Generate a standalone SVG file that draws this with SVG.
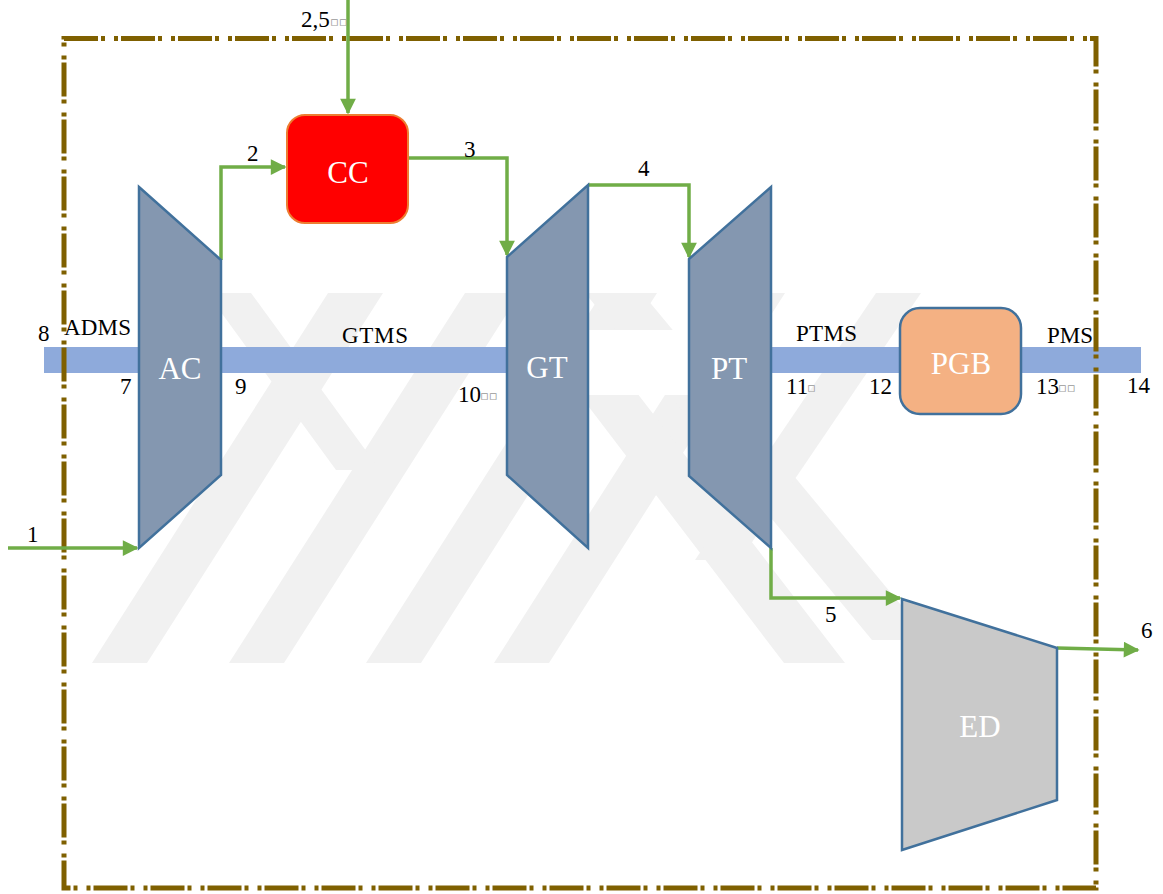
<svg xmlns="http://www.w3.org/2000/svg" width="1163" height="894" viewBox="0 0 1163 894">
<style>
.wm{fill:#f1f1f1;stroke:none}
.shaft{fill:#8eaadb}
.turb{fill:#8497b0;stroke:#41719c;stroke-width:2.5}
.flow{fill:none;stroke:#70ad47;stroke-width:3.5}
.lbl{font-family:"Liberation Serif","Times New Roman",serif;font-size:23px;fill:#000}
.name{font-family:"Liberation Serif","Times New Roman",serif;font-size:31px;fill:#fff;text-anchor:middle}
.tofu{font-family:"DejaVu Sans",sans-serif;font-size:13px;fill:#9a9a9a}
</style>
<defs>
<marker id="ah" viewBox="0 0 10 10" refX="9" refY="5" markerWidth="5" markerHeight="4.5" markerUnits="strokeWidth" orient="auto">
<path d="M0,0 L10,5 L0,10 Z" fill="#70ad47"/>
</marker>
</defs>
<rect width="1163" height="894" fill="#fff"/>
<g id="watermark">
<polygon class="wm" points="92,663 147,663 383,293 328,293"/>
<polygon class="wm" points="229,663 284,663 520,293 465,293"/>
<polygon class="wm" points="366,663 421,663 657,293 602,293"/>
<polygon class="wm" points="494,663 549,663 785,293 730,293"/>
<polygon class="wm" points="207,293 251,293 380,470 336,470"/>
<polygon class="wm" points="502,293 560,293 845,663 784,663"/>
<polygon class="wm" points="585,293 642,293 930,640 872,640"/>
<polygon class="wm" points="876,293 921,293 740,560 695,560"/>
</g>
<g id="shaft">
<rect class="shaft" x="44" y="347" width="544" height="26"/>
<rect class="shaft" x="771" y="347" width="370" height="26"/>
<rect x="588" y="330" width="101" height="65" fill="#fff"/>
</g>
<g id="border">
<rect x="64" y="38.5" width="1032" height="849.5" fill="none" stroke="#7f6000" stroke-width="5" stroke-dasharray="34 3 4 9 4 3"/>
</g>
<g id="connectors">
<path class="flow" d="M8,548 L137,548" marker-end="url(#ah)"/>
<path class="flow" d="M221,260 L221,167 L285,167" marker-end="url(#ah)"/>
<path class="flow" d="M348,0 L348,113" marker-end="url(#ah)"/>
<path class="flow" d="M408,158 L507,158 L507,255" marker-end="url(#ah)"/>
<path class="flow" d="M588,185 L689,185 L689,257" marker-end="url(#ah)"/>
<path class="flow" d="M771,548 L771,598 L900,598" marker-end="url(#ah)"/>
<path class="flow" d="M1057,648 L1138,650" marker-end="url(#ah)"/>
</g>
<g id="AC">
<polygon class="turb" points="139,187 221,260 221,475 139,548"/>
<text class="name" x="180" y="379">AC</text>
</g>
<g id="GT">
<polygon class="turb" points="507,257 588,185 588,548 507,475"/>
<text class="name" x="547" y="378">GT</text>
</g>
<g id="PT">
<polygon class="turb" points="689,259 771,187 771,548 689,476"/>
<text class="name" x="729" y="379">PT</text>
</g>
<g id="CC">
<rect x="287" y="115" width="121" height="108" rx="18" fill="#ff0000" stroke="#ed7d31" stroke-width="2"/>
<text class="name" x="348" y="183">CC</text>
</g>
<g id="PGB">
<rect x="900" y="308" width="121" height="106" rx="20" fill="#f4b183" stroke="#41719c" stroke-width="2.5"/>
<text class="name" x="961" y="374">PGB</text>
</g>
<g id="ED">
<polygon points="902,599 1057,648 1057,800 902,850" fill="#c9c9c9" stroke="#41719c" stroke-width="2.5"/>
<text class="name" x="980" y="737">ED</text>
</g>
<g id="labels">
<text class="lbl" x="301" y="27">2,5</text><text class="tofu" x="330" y="26">▫▫</text>
<text class="lbl" x="27" y="542">1</text>
<text class="lbl" x="247" y="161">2</text>
<text class="lbl" x="464" y="157">3</text>
<text class="lbl" x="638" y="176">4</text>
<text class="lbl" x="825" y="622">5</text>
<text class="lbl" x="1141" y="638">6</text>
<text class="lbl" x="38" y="341">8</text>
<text class="lbl" x="64" y="335" textLength="67">ADMS</text>
<text class="lbl" x="120" y="394">7</text>
<text class="lbl" x="235" y="394">9</text>
<text class="lbl" x="342" y="343" textLength="66">GTMS</text>
<text class="lbl" x="458" y="402">10</text><text class="tofu" x="480" y="400">▫▫</text>
<text class="lbl" x="796" y="341" textLength="61">PTMS</text>
<text class="lbl" x="786" y="394">11</text><text class="tofu" x="807" y="392">▫</text>
<text class="lbl" x="869" y="394">12</text>
<text class="lbl" x="1047" y="343" textLength="46">PMS</text>
<text class="lbl" x="1036" y="394">13</text><text class="tofu" x="1058" y="392">▫▫</text>
<text class="lbl" x="1127" y="393">14</text>
</g>
</svg>
